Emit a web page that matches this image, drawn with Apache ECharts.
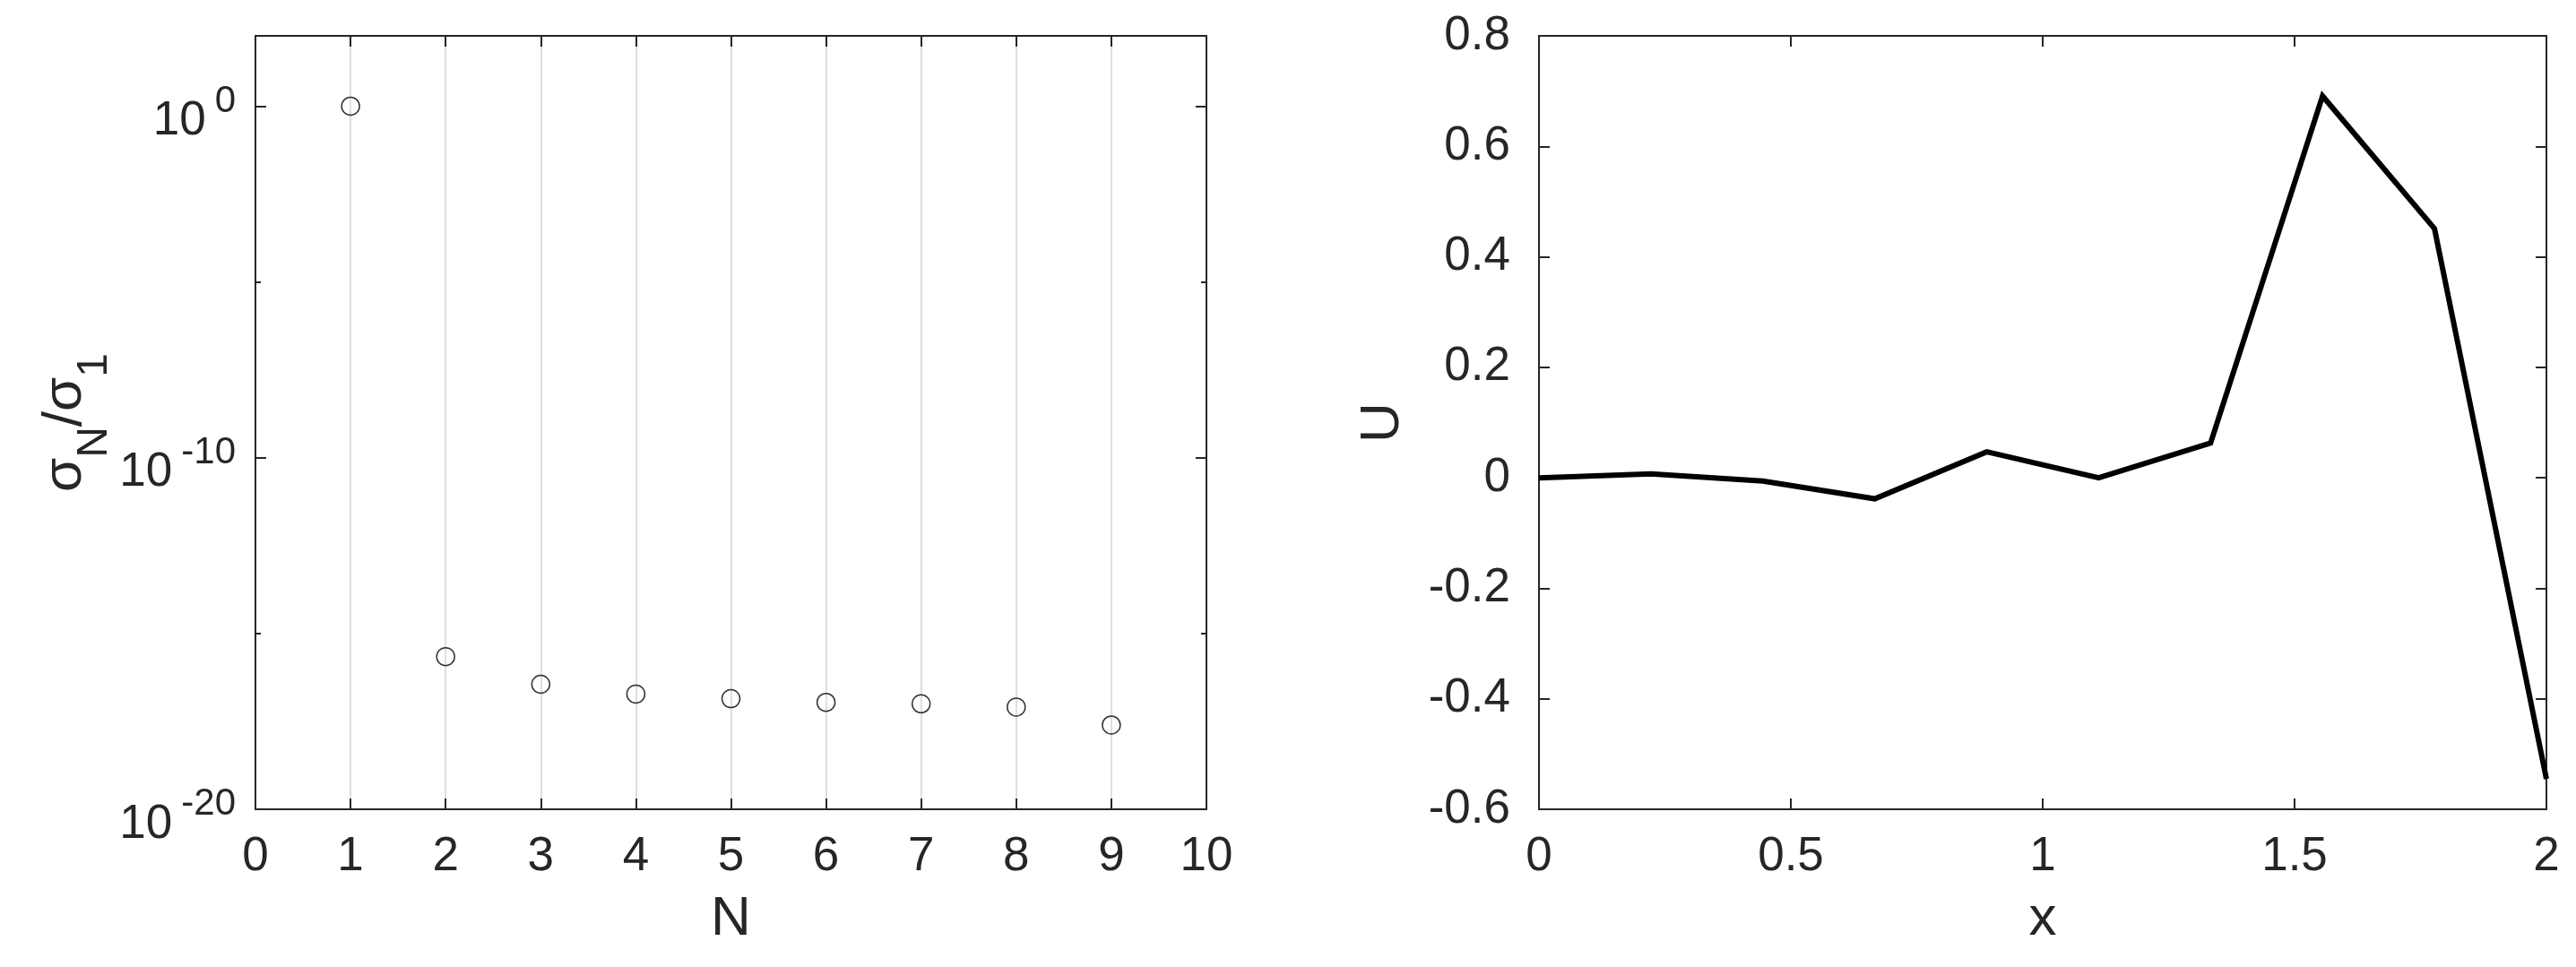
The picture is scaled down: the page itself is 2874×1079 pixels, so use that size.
<!DOCTYPE html>
<html><head><meta charset="utf-8">
<script src="https://cdn.jsdelivr.net/npm/echarts@6/dist/echarts.min.js"></script>
<style>html,body{margin:0;padding:0;background:#fff}#c{width:2874px;height:1079px}</style>
</head><body><div id="c"></div>
<script>
// ---- data ----
const nValues = [1, 2, 3, 4, 5, 6, 7, 8, 9];
const sigmaRatio = [1, 2.2e-16, 3.6e-17, 1.9e-17, 1.4e-17, 1.1e-17, 1.0e-17, 8.1e-18, 2.5e-18];
const xValues = [0, 0.2222, 0.4444, 0.6667, 0.8889, 1.1111, 1.3333, 1.5556, 1.7778, 2];
const uValues = [0.000, 0.007, -0.006, -0.038, 0.047, 0.000, 0.063, 0.691, 0.451, -0.545];
const leftYLabelExponents = [-20, -10, 0];

// ---- style ----
const FONT = 'Liberation Sans, Arial, Helvetica, sans-serif';
const AX = '#262626';
const axisLine = { show: true, onZero: false, lineStyle: { color: AX, width: 2 } };
const tickMajor = { show: true, inside: true, length: 12, lineStyle: { color: AX, width: 2 } };
const tickMinor = { show: true, inside: true, length: 6, lineStyle: { color: AX, width: 2 } };
const tickLabel = (margin) => ({ margin: margin, fontSize: 53, lineHeight: 53, color: AX, fontFamily: FONT });
const nameStyle = { fontSize: 62, lineHeight: 62, color: AX, fontFamily: FONT };

const chart = echarts.init(document.getElementById('c'), null, { renderer: 'canvas' });
chart.setOption({
  animation: false,
  backgroundColor: '#fff',
  grid: [
    { left: 285, top: 40, width: 1061, height: 863 },
    { left: 1717, top: 40, width: 1124, height: 863 }
  ],
  xAxis: [
    { gridIndex: 0, type: 'value', min: 0, max: 10, interval: 1, position: 'bottom',
      axisLine: axisLine, axisTick: tickMajor, axisLabel: tickLabel(27),
      splitLine: { show: true, lineStyle: { color: '#dfdfdf', width: 2 } },
      name: 'N', nameLocation: 'middle', nameGap: 92, nameTextStyle: nameStyle },
    { gridIndex: 0, type: 'value', min: 0, max: 10, interval: 1, position: 'top',
      axisLine: axisLine, axisTick: tickMajor, axisLabel: { show: false }, splitLine: { show: false } },
    { gridIndex: 1, type: 'value', min: 0, max: 2, interval: 0.5, position: 'bottom',
      axisLine: axisLine, axisTick: tickMajor, axisLabel: tickLabel(27), splitLine: { show: false },
      name: 'x', nameLocation: 'middle', nameGap: 92, nameTextStyle: nameStyle },
    { gridIndex: 1, type: 'value', min: 0, max: 2, interval: 0.5, position: 'top',
      axisLine: axisLine, axisTick: tickMajor, axisLabel: { show: false }, splitLine: { show: false } }
  ],
  yAxis: [
    { gridIndex: 0, type: 'log', logBase: 10, min: 1e-20, max: 1e2, position: 'left',
      axisLine: axisLine, axisTick: tickMajor, splitLine: { show: false },
      axisLabel: {
        margin: 22, color: AX, fontFamily: FONT,
        formatter: function (v) {
          const e = Math.round(Math.log10(v));
          if (leftYLabelExponents.indexOf(e) < 0) return '';
          return '{b|10}{s|' + e + '}';
        },
        rich: {
          b: { fontSize: 53, lineHeight: 53, padding: [17, 0, 0, 0], verticalAlign: 'top', color: AX, fontFamily: FONT },
          s: { fontSize: 42, lineHeight: 42, padding: [0, 0, 0, 10], verticalAlign: 'top', color: AX, fontFamily: FONT }
        }
      },
      name: '{m|σ}{s|N}{m|/σ}{s|1}', nameLocation: 'middle', nameGap: 180,
      nameTextStyle: {
        color: AX, fontFamily: FONT,
        rich: {
          m: { fontSize: 62, lineHeight: 62, verticalAlign: 'top', color: AX, fontFamily: FONT },
          s: { fontSize: 48, lineHeight: 48, padding: [40, 0, 0, 0], verticalAlign: 'top', color: AX, fontFamily: FONT }
        }
      } },
    { gridIndex: 0, type: 'log', logBase: 10, min: 1e-20, max: 1e2, position: 'right',
      axisLine: axisLine, axisTick: tickMajor, axisLabel: { show: false }, splitLine: { show: false } },
    { gridIndex: 0, type: 'value', min: -20, max: 2, interval: 5, position: 'left',
      axisLine: { show: false, onZero: false }, axisTick: tickMinor, axisLabel: { show: false }, splitLine: { show: false } },
    { gridIndex: 0, type: 'value', min: -20, max: 2, interval: 5, position: 'right',
      axisLine: { show: false, onZero: false }, axisTick: tickMinor, axisLabel: { show: false }, splitLine: { show: false } },
    { gridIndex: 1, type: 'value', min: -0.6, max: 0.8, interval: 0.2, position: 'left',
      axisLine: axisLine, axisTick: tickMajor, axisLabel: tickLabel(32), splitLine: { show: false },
      name: 'U', nameLocation: 'middle', nameGap: 143, nameTextStyle: nameStyle },
    { gridIndex: 1, type: 'value', min: -0.6, max: 0.8, interval: 0.2, position: 'right',
      axisLine: axisLine, axisTick: tickMajor, axisLabel: { show: false }, splitLine: { show: false } }
  ],
  series: [
    { type: 'scatter', xAxisIndex: 0, yAxisIndex: 0,
      data: nValues.map((n, i) => [n, sigmaRatio[i]]),
      symbol: 'circle', symbolSize: 20,
      itemStyle: { color: 'rgba(0,0,0,0)', borderColor: '#000', borderWidth: 1.5 } },
    { type: 'line', xAxisIndex: 2, yAxisIndex: 4,
      data: xValues.map((x, i) => [x, uValues[i]]),
      showSymbol: false, symbol: 'none',
      lineStyle: { color: '#000', width: 6, join: 'miter' } }
  ]
});
</script>
</body></html>
